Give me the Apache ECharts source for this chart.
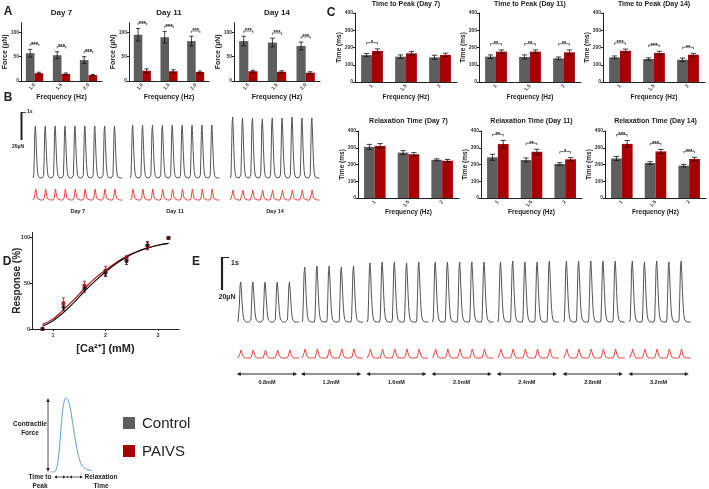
<!DOCTYPE html>
<html><head><meta charset="utf-8">
<script src="https://cdn.jsdelivr.net/npm/echarts@6/dist/echarts.min.js"></script>
<style>html,body{margin:0;padding:0;background:#fff}#c{width:709px;height:489px}</style>
</head><body><div id="c"></div>
<script>
// ---------------- DATA ----------------
const freqForce = ['1.0','1.5','2.0'];
const freqTime = ['1','1.5','2'];
// Panel A: force (µN)
const forceCtrlD7 = [57,53,43], forceCtrlErrD7 = [8,7,7];
const forcePaivsD7 = [16,14.5,12], forcePaivsErrD7 = [2,2,1.5];
const forceSigD7 = ['***','***','***'];
const forceCtrlD11 = [95,90,82], forceCtrlErrD11 = [13,12,10];
const forcePaivsD11 = [21,20,18.5], forcePaivsErrD11 = [4,3,2];
const forceSigD11 = ['***','***','***'];
const forceCtrlD14 = [82,79,72], forceCtrlErrD14 = [10,9,8];
const forcePaivsD14 = [20,19,17], forcePaivsErrD14 = [2,2,2];
const forceSigD14 = ['***','***','***'];
// Panel C: time to peak (ms)
const ttpCtrlD7 = [156,147,143], ttpCtrlErrD7 = [9,10,12];
const ttpPaivsD7 = [180,166,157], ttpPaivsErrD7 = [12,10,10];
const ttpSigD7 = ['*','',''];
const ttpCtrlD11 = [147,145,137], ttpCtrlErrD11 = [10,12,8];
const ttpPaivsD11 = [176,176,172], ttpPaivsErrD11 = [10,10,14];
const ttpSigD11 = ['**','**','**'];
const ttpCtrlD14 = [143,133,129], ttpCtrlErrD14 = [8,7,10];
const ttpPaivsD14 = [181,168,158], ttpPaivsErrD14 = [10,10,8];
const ttpSigD14 = ['***','***','**'];
// Panel C: relaxation time (ms)
const rtCtrlD7 = [305,271,228], rtCtrlErrD7 = [15,12,6];
const rtPaivsD7 = [311,261,222], rtPaivsErrD7 = [14,10,8];
const rtSigD7 = ['','',''];
const rtCtrlD11 = [243,227,203], rtCtrlErrD11 = [18,12,8];
const rtPaivsD11 = [322,276,231], rtPaivsErrD11 = [22,15,10];
const rtSigD11 = ['**','**','*'];
const rtCtrlD14 = [236,209,193], rtCtrlErrD14 = [12,8,8];
const rtPaivsD14 = [323,278,233], rtPaivsErrD14 = [20,12,10];
const rtSigD14 = ['***','***','***'];
// Panel B: traces (beat template + per-beat amplitudes)
const twitchShape = [0,0.05,0.42,0.9,1,0.8,0.5,0.26,0.12,0.05,0.02,0.01,0,0,0,0,0,0];
const redShape = [0,0.03,0.2,0.62,1,0.7,0.34,0.13,0.04,0.01,0,0,0,0,0,0];
const bBlockStarts = [0, 9.83, 19.93];
const bBlockLabels = ['Day 7','Day 11','Day 14'];
const bCtrlAmps = [[52,52,52,52,52,52,52,52,52],[53,53,53,53,53,53,53,53,53],[61,60,60,59,60,60,61,60,60]];
const bPaivsAmps = [[11,11,11,11,11,11,11,11,11],[11,11,11,11,11,11,11,11,11],[10,10,10,10,10,10,10,10,10]];
// Panel D: calcium response (%)
const caConc = [0.8,1.2,1.6,2.0,2.4,2.8,3.2];
const respCtrl = [0,24,44,61,74,91,99];
const respCtrlErr = [0,4,4,4,4,4,0];
const respPaivs = [0,28,47,63,76,90,99];
const respPaivsErr = [0,6,5,5,4,4,0];
const fitCa = [0.8,1.0,1.2,1.4,1.6,1.8,2.0,2.2,2.4,2.6,2.8,3.0,3.2];
const fitCtrl = [3,9,18,29,41,52,62,71,78,84,88,91,93];
const fitPaivs = [5,11,21,32,44,55,64,72,79,84,88,91,93];
// Panel E: traces at each [Ca2+]
const eLabels = ['0.8mM','1.2mM','1.6mM','2.0mM','2.4mM','2.8mM','3.2mM'];
const eBlockStarts = [0,5.25,10.6,15.95,21.3,26.7,32.1];
const eCtrlAmps = [[40,40,40,40,40],[55,56,56,55,56],[59,60,60,59,60],[60,60,60,60,60],[60,61,60,60,61],[61,61,61,61,61],[61,60,61,60,61]];
const ePaivsAmps = [[8,8,8,8,8],[9,9,9,9,9],[9,9,9,9,9],[9,9,9,9,9],[9,9,9,9,9],[9,9,9,9,9],[9,9,9,9,9]];
// Schematic twitch
const schemT = [0,4,6,8,10,12,14,16,18,20,22,24,26,28,30,32,35,38,42];
const schemF = [0,0,3,15,42,75,94,100,97,88,72,54,38,25,15,9,5,3,2];
// Legend
const legendNames = ['Control','PAIVS'];

// ---------------- STYLE ----------------
const FONT = 'Liberation Sans';
const GRAY = '#5e5e5e', RED = '#a80000', TR_BLACK = '#555555', TR_RED = '#e8463e', BLUE = '#5b9bd5', INK = '#222';

const grids = [], xAxes = [], yAxes = [], series = [], graphics = [];

function txt(s, x, y, size, opts) {
  opts = opts || {};
  graphics.push({type:'text', x:x, y:y, silent:true, z:50,
    style:{text:s, font:(opts.weight||'bold')+' '+size+'px "'+FONT+'"', fill:opts.color||INK,
      align:opts.align||'center', verticalAlign:'middle', textAlign:opts.align||'center', textVerticalAlign:'middle'}});
}
function gline(x1,y1,x2,y2,w,color){
  graphics.push({type:'line', silent:true, shape:{x1,y1,x2,y2}, style:{stroke:color||INK, lineWidth:w||1}});
}
function tri(points,color){
  graphics.push({type:'polygon', silent:true, shape:{points}, style:{fill:color||INK}});
}

function barDecor(gi, ctrl, cErr, pai, pErr, sig, max, pct) {
  const data = ctrl.map((v,i)=>[i, Math.max(v+cErr[i], pai[i]+pErr[i]) + 0.09*max]);
  return {type:'custom', xAxisIndex:gi, yAxisIndex:gi, data:data, silent:true, z:10, clip:false,
    renderItem:function(params, api){
      const i = api.value(0);
      const band = api.size([1,0])[0];
      const cx = api.coord([i,0])[0];
      const bw = band*pct;
      const gx = cx - bw/2, rx = cx + bw/2;
      const cap = bw*0.5;
      const kids = [];
      const st = {stroke:'#111', lineWidth:0.8};
      const eb = (x,v,e)=>{
        const t = api.coord([i,v+e])[1], b = api.coord([i,v-e])[1];
        kids.push({type:'line', shape:{x1:x,y1:t,x2:x,y2:b}, style:st});
        kids.push({type:'line', shape:{x1:x-cap/2,y1:t,x2:x+cap/2,y2:t}, style:st});
        kids.push({type:'line', shape:{x1:x-cap/2,y1:b,x2:x+cap/2,y2:b}, style:st});
      };
      eb(gx, ctrl[i], cErr[i]); eb(rx, pai[i], pErr[i]);
      if (sig[i]) {
        const y = api.coord([i, api.value(1)])[1];
        kids.push({type:'polyline', shape:{points:[[gx,y+2],[gx,y],[rx,y],[rx,y+2]]}, style:{stroke:'#111', lineWidth:0.6, fill:'none'}});
        kids.push({type:'text', style:{text:sig[i], x:cx, y:y+2.8, align:'center', verticalAlign:'bottom', font:'bold 6px "'+FONT+'"', fill:'#111'}});
      }
      return {type:'group', children:kids};
    }};
}

function addBarChart(o) {
  const gi = grids.length;
  grids.push({left:o.left, top:o.top, width:o.width, height:o.height, containLabel:false, outerBoundsMode:'none'});
  xAxes.push({type:'category', gridIndex:gi, data:o.cats, name:'Frequency (Hz)', nameLocation:'middle', nameGap:o.xGap, nameMoveOverlap:false,
    nameTextStyle:{fontFamily:FONT, fontSize:o.nameSize, fontWeight:'bold', color:INK},
    axisLine:{lineStyle:{color:INK, width:1}}, axisTick:{alignWithLabel:true, length:2, lineStyle:{color:INK}},
    axisLabel:{interval:0, fontFamily:FONT, fontSize:5, fontWeight:'bold', color:'#333', rotate:50, margin:3}});
  yAxes.push({type:'value', gridIndex:gi, min:0, max:o.max, interval:o.interval, name:o.yName, nameLocation:'middle', nameGap:o.yGap, nameMoveOverlap:false,
    nameTextStyle:{fontFamily:FONT, fontSize:o.nameSize, fontWeight:'bold', color:INK},
    axisLine:{show:true, lineStyle:{color:INK, width:1}}, axisTick:{show:true, length:2, lineStyle:{color:INK}},
    axisLabel:{showMaxLabel:o.showMax, fontFamily:FONT, fontSize:5, fontWeight:'bold', color:'#333', margin:2}, splitLine:{show:false}});
  const pct = 0.32;
  series.push({type:'bar', xAxisIndex:gi, yAxisIndex:gi, data:o.ctrl, barWidth:'32%', barGap:'0%', itemStyle:{color:GRAY}, silent:true});
  series.push({type:'bar', xAxisIndex:gi, yAxisIndex:gi, data:o.pai, barWidth:'32%', barGap:'0%', itemStyle:{color:RED}, silent:true});
  series.push(barDecor(gi, o.ctrl, o.cErr, o.pai, o.pErr, o.sig, o.max, pct));
  txt(o.title, o.left + o.width/2, o.titleY, o.titleSize);
}

function addHiddenGrid(left, top, width, height, xmin, xmax, ymin, ymax) {
  const gi = grids.length;
  grids.push({left, top, width, height, containLabel:false, outerBoundsMode:'none'});
  xAxes.push({type:'value', gridIndex:gi, min:xmin, max:xmax, show:false});
  yAxes.push({type:'value', gridIndex:gi, min:ymin, max:ymax, show:false});
  return gi;
}

function addTrace(gi, starts, amps, shape, baseline, color, width) {
  starts.forEach((t0,b)=>{
    const pts = [];
    amps[b].forEach((a,k)=> shape.forEach((s,j)=> pts.push([t0 + k + j/shape.length, baseline + a*s])));
    pts.push([t0 + amps[b].length, baseline]);
    series.push({type:'line', xAxisIndex:gi, yAxisIndex:gi, data:pts, showSymbol:false, symbol:'none',
      lineStyle:{color:color, width:width}, silent:true, z:3});
  });
}

// ---------------- PANEL A ----------------
const aCommon = {top:22.6, height:58.4, max:120, interval:50, showMax:false, yName:'Force (µN)', yGap:12, xGap:12.5, nameSize:7, titleY:13, titleSize:8, cats:freqForce};
addBarChart(Object.assign({}, aCommon, {left:21, width:81, ctrl:forceCtrlD7, cErr:forceCtrlErrD7, pai:forcePaivsD7, pErr:forcePaivsErrD7, sig:forceSigD7, title:'Day 7'}));
addBarChart(Object.assign({}, aCommon, {left:129, width:80, ctrl:forceCtrlD11, cErr:forceCtrlErrD11, pai:forcePaivsD11, pErr:forcePaivsErrD11, sig:forceSigD11, title:'Day 11'}));
addBarChart(Object.assign({}, aCommon, {left:234, width:86, ctrl:forceCtrlD14, cErr:forceCtrlErrD14, pai:forcePaivsD14, pErr:forcePaivsErrD14, sig:forceSigD14, title:'Day 14'}));

// ---------------- PANEL C ----------------
const cCommon = {max:400, interval:100, showMax:true, yName:'Time (ms)', yGap:12.5, nameSize:6.5, titleSize:7, cats:freqTime};
const r1 = Object.assign({}, cCommon, {top:13, height:69, xGap:11.5, titleY:4});
const r2 = Object.assign({}, cCommon, {top:131, height:67, xGap:10.5, titleY:121});
addBarChart(Object.assign({}, r1, {left:355, width:102, ctrl:ttpCtrlD7, cErr:ttpCtrlErrD7, pai:ttpPaivsD7, pErr:ttpPaivsErrD7, sig:ttpSigD7, title:'Time to Peak (Day 7)'}));
addBarChart(Object.assign({}, r1, {left:479, width:102, ctrl:ttpCtrlD11, cErr:ttpCtrlErrD11, pai:ttpPaivsD11, pErr:ttpPaivsErrD11, sig:ttpSigD11, title:'Time to Peak (Day 11)'}));
addBarChart(Object.assign({}, r1, {left:603, width:102, ctrl:ttpCtrlD14, cErr:ttpCtrlErrD14, pai:ttpPaivsD14, pErr:ttpPaivsErrD14, sig:ttpSigD14, title:'Time to Peak (Day 14)'}));
addBarChart(Object.assign({}, r2, {left:358, width:101, ctrl:rtCtrlD7, cErr:rtCtrlErrD7, pai:rtPaivsD7, pErr:rtPaivsErrD7, sig:rtSigD7, title:'Relaxation Time (Day 7)'}));
addBarChart(Object.assign({}, r2, {left:481, width:101, ctrl:rtCtrlD11, cErr:rtCtrlErrD11, pai:rtPaivsD11, pErr:rtPaivsErrD11, sig:rtSigD11, title:'Relaxation Time (Day 11)'}));
addBarChart(Object.assign({}, r2, {left:605, width:101, ctrl:rtCtrlD14, cErr:rtCtrlErrD14, pai:rtPaivsD14, pErr:rtPaivsErrD14, sig:rtSigD14, title:'Relaxation Time (Day 14)'}));

// ---------------- PANEL B ----------------
const gB = addHiddenGrid(33.2, 105, 292, 100, 0, 29.5, -30, 70);
addTrace(gB, bBlockStarts, bCtrlAmps, twitchShape, -3, TR_BLACK, 1);
addTrace(gB, bBlockStarts, bPaivsAmps, redShape, -25, TR_RED, 1);
bBlockStarts.forEach((t0,i)=>{
  const mid = 33.2 + (t0 + bCtrlAmps[i].length/2) * (292/29.5);
  txt(bBlockLabels[i], mid, 211, 5.5);
});
// scale bar B
gline(21.5, 112, 21.5, 140, 2);
gline(21.5, 112.5, 26, 112.5, 0.8);
txt('1s', 27, 112, 5, {align:'left'});
txt('20µN', 18, 147, 5);

// ---------------- PANEL D ----------------
const gD = grids.length;
grids.push({left:32, top:232.4, width:147, height:96.6, containLabel:false, outerBoundsMode:'none'});
xAxes.push({type:'value', gridIndex:gD, min:0.6, max:3.4, name:'[Ca²⁺] (mM)', nameLocation:'middle', nameGap:14.5, nameMoveOverlap:false,
  nameTextStyle:{fontFamily:FONT, fontSize:11, fontWeight:'bold', color:INK},
  axisLine:{show:true, onZero:false, lineStyle:{color:INK, width:1}},
  axisTick:{show:true, length:2, customValues:[1,2,3], lineStyle:{color:INK}},
  axisLabel:{customValues:[1,2,3], fontFamily:FONT, fontSize:5.5, fontWeight:'bold', color:'#333', margin:3},
  splitLine:{show:false}});
yAxes.push({type:'value', gridIndex:gD, min:0, max:105, interval:50, name:'Response (%)', nameLocation:'middle', nameGap:10, nameMoveOverlap:false,
  nameTextStyle:{fontFamily:FONT, fontSize:10, fontWeight:'bold', color:INK},
  axisLine:{show:true, lineStyle:{color:INK, width:1}}, axisTick:{show:true, length:2, lineStyle:{color:INK}},
  axisLabel:{showMaxLabel:false, fontFamily:FONT, fontSize:5.5, fontWeight:'bold', color:'#333', margin:2}, splitLine:{show:false}});
series.push({type:'line', xAxisIndex:gD, yAxisIndex:gD, data:fitCa.map((x,i)=>[x,fitPaivs[i]]), smooth:true, showSymbol:false, symbol:'none', lineStyle:{color:'#b01010', width:1.2}, silent:true, z:3});
series.push({type:'line', xAxisIndex:gD, yAxisIndex:gD, data:fitCa.map((x,i)=>[x,fitCtrl[i]]), smooth:true, showSymbol:false, symbol:'none', lineStyle:{color:'#111', width:1.2}, silent:true, z:3});
function errSeries(gi, xs, ys, es, color) {
  return {type:'custom', xAxisIndex:gi, yAxisIndex:gi, silent:true, z:4, clip:false,
    data: xs.map((x,i)=>[x, ys[i], es[i]]),
    renderItem:function(p, api){
      const x = api.value(0), y = api.value(1), e = api.value(2);
      if (!e) return null;
      const t = api.coord([x,y+e]), b = api.coord([x,y-e]);
      const st = {stroke:color, lineWidth:0.8};
      return {type:'group', children:[
        {type:'line', shape:{x1:t[0],y1:t[1],x2:b[0],y2:b[1]}, style:st},
        {type:'line', shape:{x1:t[0]-1.5,y1:t[1],x2:t[0]+1.5,y2:t[1]}, style:st},
        {type:'line', shape:{x1:b[0]-1.5,y1:b[1],x2:b[0]+1.5,y2:b[1]}, style:st}]};
    }};
}
series.push(errSeries(gD, caConc, respPaivs, respPaivsErr, '#c02020'));
series.push(errSeries(gD, caConc, respCtrl, respCtrlErr, '#111'));
series.push({type:'scatter', xAxisIndex:gD, yAxisIndex:gD, data:caConc.map((x,i)=>[x,respPaivs[i]]), symbol:'rect', symbolSize:4, itemStyle:{color:'#b01010'}, silent:true, z:5});
series.push({type:'scatter', xAxisIndex:gD, yAxisIndex:gD, data:caConc.map((x,i)=>[x,respCtrl[i]]), symbol:'circle', symbolSize:4, itemStyle:{color:'#111'}, silent:true, z:6});

// ---------------- PANEL E ----------------
const eUnit = 12.2;
const gE = addHiddenGrid(238, 255, 37.5*eUnit, 110, 0, 37.5, -45, 65);
addTrace(gE, eBlockStarts, eCtrlAmps, twitchShape, -2, TR_BLACK, 1);
addTrace(gE, eBlockStarts, ePaivsAmps, redShape, -38, TR_RED, 1);
series.push({type:'custom', xAxisIndex:gE, yAxisIndex:gE, silent:true, clip:false, z:5,
  data: eBlockStarts.map((s,i)=>[s-0.1, s+eCtrlAmps[i].length-0.15]),
  renderItem:function(p, api){
    const a = api.coord([api.value(0), -54]), b = api.coord([api.value(1), -54]);
    const mid = (a[0]+b[0])/2;
    const lbl = api.coord([0, -62])[1];
    return {type:'group', children:[
      {type:'line', shape:{x1:a[0]+2,y1:a[1],x2:b[0]-2,y2:b[1]}, style:{stroke:INK, lineWidth:1}},
      {type:'polygon', shape:{points:[[a[0],a[1]],[a[0]+4,a[1]-2],[a[0]+4,a[1]+2]]}, style:{fill:INK}},
      {type:'polygon', shape:{points:[[b[0],b[1]],[b[0]-4,b[1]-2],[b[0]-4,b[1]+2]]}, style:{fill:INK}},
      {type:'text', style:{text:eLabels[p.dataIndex], x:mid, y:lbl, align:'center', verticalAlign:'middle', font:'bold 5.5px "'+FONT+'"', fill:INK}}
    ]};
  }});
// scale bar E
gline(222, 257, 222, 290, 2.2);
gline(222, 257.5, 229, 257.5, 1);
txt('1s', 231, 263, 7, {align:'left'});
txt('20µN', 227, 297, 7);

// ---------------- SCHEMATIC ----------------
const gS = addHiddenGrid(50, 398, 42, 74, 0, 42, 0, 100);
series.push({type:'line', xAxisIndex:gS, yAxisIndex:gS, data:schemT.map((t,i)=>[t,schemF[i]]), smooth:true, showSymbol:false, symbol:'none', lineStyle:{color:BLUE, width:1}, silent:true});
gline(48, 401, 48, 469, 0.8);
tri([[48,398],[46.3,402],[49.7,402]]);
tri([[48,472],[46.3,468],[49.7,468]]);
txt('Contractile', 30, 424, 6.5);
txt('Force', 30, 433, 6.5);
txt('Time to', 40, 477, 6.5);
txt('Peak', 40, 486, 6.5);
txt('Relaxation', 101, 477, 6.5);
txt('Time', 101, 486, 6.5);
gline(56, 477, 64, 477, 0.7); tri([[54,477],[57,475.5],[57,478.5]]); tri([[66,477],[63,475.5],[63,478.5]]);
graphics.push({type:'circle', silent:true, shape:{cx:67.5, cy:477, r:1.1}, style:{fill:INK}});
gline(71, 477, 81, 477, 0.7); tri([[69,477],[72,475.5],[72,478.5]]); tri([[83,477],[80,475.5],[80,478.5]]);

// ---------------- LEGEND ----------------
graphics.push({type:'rect', silent:true, shape:{x:123, y:417, width:12, height:12}, style:{fill:GRAY}});
graphics.push({type:'rect', silent:true, shape:{x:123, y:445, width:12, height:12}, style:{fill:RED}});
txt(legendNames[0], 142, 423.5, 15, {align:'left', weight:'normal'});
txt(legendNames[1], 142, 451.5, 15, {align:'left', weight:'normal'});

// ---------------- PANEL LETTERS ----------------
txt('A', 8, 12, 12);
txt('B', 8, 98, 12);
txt('C', 331, 13, 12);
txt('D', 7, 262, 12);
txt('E', 196, 262, 12);

const chart = echarts.init(document.getElementById('c'), null, {renderer:'canvas'});
chart.setOption({
  animation:false,
  backgroundColor:'#fff',
  grid:grids, xAxis:xAxes, yAxis:yAxes, series:series, graphic:graphics
});
</script></body></html>
